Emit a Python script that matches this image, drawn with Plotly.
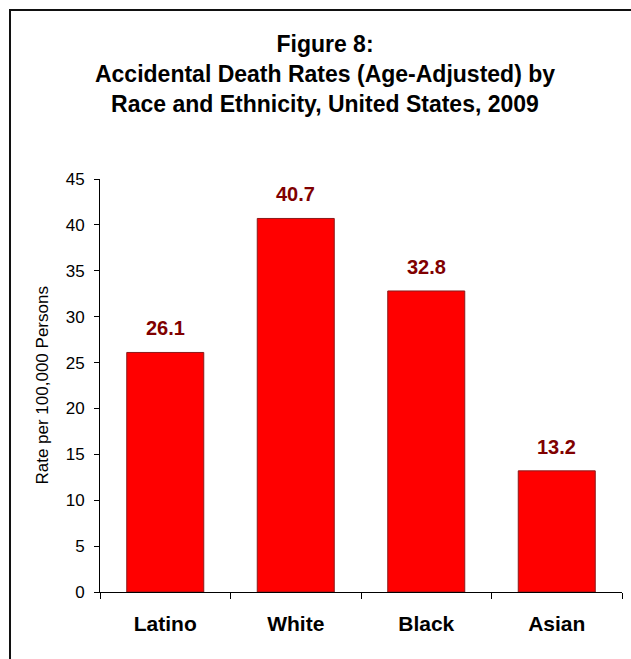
import plotly.graph_objects as go

# Age-adjusted accidental death rates per 100,000 persons, US 2009
groups = ["Latino", "White", "Black", "Asian"]
rates = [26.1, 40.7, 32.8, 13.2]
y_ticks = [0, 5, 10, 15, 20, 25, 30, 35, 40, 45]

FONT = "Liberation Sans, Arial, sans-serif"
BAR_RED = "#FF0000"
LABEL_RED = "#800000"

fig = go.Figure()
fig.add_trace(go.Bar(
    x=groups,
    y=rates,
    marker=dict(color=BAR_RED, line=dict(color="#8B1A1A", width=1)),
    hoverinfo="skip",
))

# value labels above each bar
for g, v in zip(groups, rates):
    fig.add_annotation(
        x=g, y=v, text=f"<b>{v:.1f}</b>", showarrow=False,
        yanchor="bottom", yshift=11,
        font=dict(family=FONT, size=20, color=LABEL_RED),
    )

# y-axis title
fig.add_annotation(
    xref="paper", yref="paper", x=-0.111, y=0.5,
    text="Rate per 100,000 Persons", textangle=-90, showarrow=False,
    xanchor="center", yanchor="middle",
    font=dict(family=FONT, size=17, color="#000000"),
)

# outer frame
fig.add_shape(
    type="rect", xref="paper", yref="paper",
    x0=-0.1724, x1=1.2, y0=-0.3, y1=1.409,
    line=dict(color="#111111", width=2), fillcolor="rgba(0,0,0,0)",
    layer="below",
)

fig.update_layout(
    width=631, height=659,
    margin=dict(l=100, r=9, t=179, b=67),
    paper_bgcolor="white", plot_bgcolor="white",
    bargap=0.41,
    showlegend=False,
    title=dict(
        text="<b>Figure 8:<br>Accidental Death Rates (Age-Adjusted) by<br>"
             "Race and Ethnicity, United States, 2009</b>",
        x=325 / 631, xanchor="center", xref="container",
        y=1 - 52 / 659, yanchor="top", yref="container",
        font=dict(family=FONT, size=23, color="#000000"),
    ),
    font=dict(family=FONT, color="#000000"),
)

fig.update_xaxes(
    type="category",
    showline=True, linecolor="#000000", linewidth=1,
    ticks="outside", ticklen=6, tickcolor="#000000", tickson="boundaries",
    tickfont=dict(family=FONT, size=21, color="#000000"),
    tickprefix="<b>", ticksuffix="</b>",
    ticklabelstandoff=13,
    showgrid=False, zeroline=False,
)
fig.update_yaxes(
    range=[0, 45], tickvals=y_ticks,
    showline=True, linecolor="#000000", linewidth=1,
    ticks="outside", ticklen=5, tickcolor="#000000",
    tickfont=dict(family=FONT, size=17, color="#000000"),
    ticklabelstandoff=6,
    showgrid=False, zeroline=False,
)

fig.write_html("out.html")
